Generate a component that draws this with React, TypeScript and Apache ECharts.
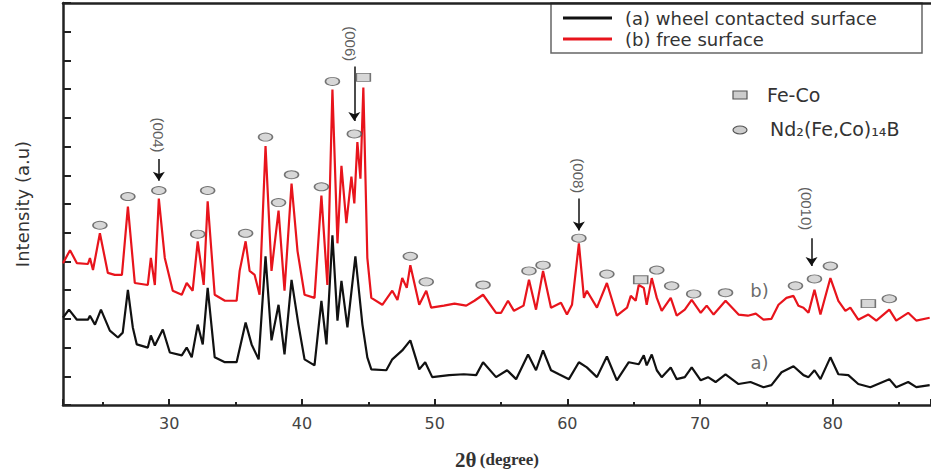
import React, { useEffect, useRef } from "react";
import * as echarts from "echarts";

const seriesAName = "(a) wheel contacted surface";
const seriesBName = "(b) free surface";

// 2θ (degree), intensity (a.u.)
const seriesA: number[][] = [
  [22.0, 3.04], [22.45, 3.32], [23.05, 2.97], [23.88, 2.97], [24.03, 3.11], [24.41, 2.8], [24.86, 3.32],
  [25.53, 2.59], [26.14, 2.35], [26.5, 2.52], [26.89, 4.01], [27.26, 2.7], [27.56, 2.11], [28.39, 2.0],
  [28.62, 2.42], [28.92, 2.07], [29.52, 2.63], [30.05, 1.83], [30.95, 1.73], [31.32, 2.0], [31.7, 1.66],
  [32.15, 2.8], [32.53, 2.11], [32.9, 4.08], [33.43, 1.66], [34.2, 1.49], [35.08, 1.49], [35.76, 2.87],
  [36.21, 2.11], [36.74, 1.59], [37.26, 5.18], [37.71, 2.25], [38.24, 3.49], [38.69, 1.76], [39.22, 4.36],
  [39.74, 2.8], [40.2, 1.59], [40.95, 1.38], [41.47, 3.63], [41.85, 2.11], [42.3, 5.91], [42.68, 2.94],
  [42.98, 4.32], [43.43, 2.7], [44.03, 5.18], [44.56, 2.8], [44.93, 1.66], [45.23, 1.24], [46.36, 1.21],
  [46.81, 1.59], [47.56, 1.9], [48.17, 2.25], [48.84, 1.24], [49.29, 1.49], [49.82, 0.97], [51.1, 1.04],
  [52.2, 1.07], [53.13, 1.04], [53.65, 1.49], [54.63, 0.97], [55.46, 1.21], [56.14, 0.9], [57.04, 1.76],
  [57.64, 1.21], [58.17, 1.9], [58.77, 1.21], [59.37, 1.07], [60.12, 0.9], [60.87, 1.49], [61.47, 1.31],
  [62.23, 0.97], [62.98, 1.69], [63.73, 0.86], [64.63, 1.49], [65.38, 1.42], [65.76, 1.73], [65.98, 1.38],
  [66.36, 1.76], [66.74, 1.21], [67.11, 0.97], [67.79, 1.31], [68.24, 0.9], [68.85, 0.97], [69.37, 1.31],
  [70.05, 0.86], [70.6, 0.97], [71.17, 0.8], [71.92, 1.07], [72.9, 0.73], [73.8, 0.8], [74.78, 0.62],
  [75.38, 0.69], [76.14, 1.14], [77.04, 1.35], [77.79, 1.04], [78.17, 0.97], [78.62, 1.21], [79.07, 0.9],
  [79.82, 1.66], [80.42, 1.07], [81.17, 1.04], [81.92, 0.73], [82.83, 0.62], [84.26, 0.9], [84.78, 0.62],
  [85.68, 0.8], [86.29, 0.62], [87.3, 0.69],
];

const seriesB: number[][] = [
  [22.0, 4.94], [22.53, 5.39], [23.05, 4.94], [23.88, 4.91], [24.03, 5.12], [24.26, 4.7], [24.78, 5.98],
  [25.38, 4.6], [25.9, 4.53], [26.44, 4.53], [26.89, 6.91], [27.41, 4.25], [28.39, 4.18], [28.62, 5.12],
  [28.92, 4.18], [29.22, 7.19], [29.67, 5.12], [30.27, 3.98], [30.95, 3.84], [31.32, 4.25], [31.77, 3.98],
  [32.15, 5.7], [32.6, 4.18], [32.9, 7.09], [33.43, 3.84], [34.2, 3.63], [35.08, 3.63], [35.31, 4.67],
  [35.76, 5.7], [36.06, 4.67], [36.44, 4.53], [36.81, 3.84], [37.26, 9.02], [37.71, 4.67], [38.24, 6.77],
  [38.69, 3.98], [39.22, 7.71], [39.67, 5.36], [40.2, 3.84], [40.95, 3.73], [41.47, 7.29], [41.92, 4.18],
  [42.3, 10.99], [42.68, 5.63], [42.98, 8.33], [43.35, 6.33], [43.73, 7.95], [43.95, 7.02], [44.18, 9.16],
  [44.41, 7.88], [44.63, 11.06], [44.93, 5.12], [45.23, 3.73], [46.06, 3.49], [46.81, 3.98], [47.2, 3.66],
  [47.56, 4.42], [47.9, 4.08], [48.17, 4.87], [48.84, 3.49], [49.37, 3.98], [49.74, 3.39], [50.7, 3.46],
  [51.5, 3.53], [52.38, 3.46], [53.0, 3.63], [53.65, 3.84], [54.63, 3.21], [55.01, 3.21], [55.53, 3.63],
  [55.98, 3.28], [56.7, 3.46], [57.11, 4.36], [57.64, 3.32], [58.17, 4.67], [58.77, 3.39], [59.52, 3.56],
  [59.97, 3.15], [60.35, 3.49], [60.87, 5.63], [61.25, 3.73], [61.47, 3.98], [62.23, 3.39], [62.98, 4.25],
  [63.73, 3.11], [64.5, 3.39], [64.78, 3.8], [65.15, 3.63], [65.38, 4.18], [65.76, 4.08], [65.98, 3.49],
  [66.36, 4.42], [66.74, 3.73], [67.11, 3.28], [67.79, 3.73], [68.24, 3.11], [68.85, 3.32], [69.37, 3.66],
  [70.05, 3.21], [70.5, 3.46], [71.02, 3.15], [71.92, 3.63], [72.9, 3.15], [73.6, 3.11], [74.2, 3.18],
  [74.78, 2.97], [75.38, 3.0], [75.91, 3.49], [76.51, 3.73], [77.04, 3.8], [77.41, 3.46], [77.79, 3.39],
  [78.17, 3.21], [78.62, 4.01], [79.07, 3.15], [79.82, 4.42], [80.42, 3.63], [80.95, 3.28], [81.32, 3.39],
  [81.92, 2.97], [82.68, 3.15], [83.28, 2.94], [84.26, 3.32], [84.78, 2.94], [85.68, 3.21], [86.29, 2.94],
  [87.3, 3.04],
];

// phase markers: Nd2(Fe,Co)14B (ellipse) and Fe-Co (rectangle)
const ndPeaks: number[][] = [
  [24.78, 6.26], [26.89, 7.26], [29.22, 7.47], [32.15, 5.95], [32.9, 7.47], [35.76, 5.98], [37.26, 9.33],
  [38.24, 7.05], [39.22, 8.02], [41.47, 7.6], [42.3, 11.27], [43.95, 9.44], [48.17, 5.18], [49.37, 4.29],
  [53.65, 4.18], [57.11, 4.67], [58.17, 4.87], [60.87, 5.81], [62.98, 4.56], [66.74, 4.7], [67.86, 4.15],
  [69.52, 3.87], [71.92, 3.91], [77.19, 4.15], [78.62, 4.39], [79.82, 4.84], [84.26, 3.7],
];
const feCoPeaks: number[][] = [[44.63, 11.41], [65.53, 4.36], [82.68, 3.53]];

// crystal plane annotations
const planeLabels = ["(004)", "(006)", "(008)", "(0010)"];
const planeLabelPos: number[][] = [[29.22, 9.4], [43.65, 12.58], [60.87, 7.98], [78.02, 6.84]];
const arrowX = [29.22, 43.95, 60.87, 78.4];
const arrowFrom = [8.57, 11.79, 7.19, 5.81];
const arrowTo = [7.81, 9.89, 6.08, 4.84];

const curveTags = ["b)", "a)"];
const curveTagPos: number[][] = [[74.48, 3.98], [74.48, 1.49]];

const phaseNames = ["Fe-Co", "Nd\u2082(Fe,Co)\u2081\u2084B"];

const AXIS = "#222";
const MARK_FILL = "#cdcdcd";
const MARK_BORDER = "#555";

export default function App() {
  const ref = useRef<HTMLDivElement>(null);

  useEffect(() => {
    document.body.style.margin = "0";
    if (!ref.current) return;
    const chart = echarts.init(ref.current, undefined, { renderer: "svg" });

    const option: any = {
      animation: false,
      backgroundColor: "#fff",
      grid: { left: 63, right: 0, top: 3, bottom: 67, containLabel: false },
      legend: {
        data: [seriesAName, seriesBName],
        orient: "vertical",
        left: 563,
        top: 9,
        icon: "rect",
        itemWidth: 49,
        itemHeight: 3,
        itemGap: 3,
        padding: 0,
        textStyle: {
          fontFamily: "DejaVu Sans",
          fontSize: 18,
          color: "#333",
          padding: [0, 0, 0, 8],
        },
      },
      graphic: [
        {
          type: "rect",
          shape: { x: 551, y: 3, width: 371, height: 50 },
          style: { fill: "none", stroke: "#666", lineWidth: 1.5 },
          silent: true,
        },
        {
          type: "rect",
          shape: { x: 733, y: 91, width: 14, height: 8 },
          style: { fill: MARK_FILL, stroke: MARK_BORDER, lineWidth: 1.2 },
          silent: true,
        },
        {
          type: "ellipse",
          shape: { cx: 740, cy: 130, rx: 7, ry: 4 },
          style: { fill: MARK_FILL, stroke: MARK_BORDER, lineWidth: 1.2 },
          silent: true,
        },
        {
          type: "text",
          x: 767,
          y: 95,
          style: {
            text: phaseNames[0],
            fontFamily: "DejaVu Sans",
            fontSize: 19,
            fill: "#333",
            verticalAlign: "middle",
          },
          silent: true,
        },
        {
          type: "text",
          x: 770,
          y: 129,
          style: {
            text: phaseNames[1],
            fontFamily: "DejaVu Sans",
            fontSize: 19,
            fill: "#333",
            verticalAlign: "middle",
          },
          silent: true,
        },
      ],
      xAxis: [
        {
          type: "value",
          min: 22,
          max: 87.4,
          splitNumber: 6,
          axisLine: { show: true, onZero: false, lineStyle: { color: AXIS, width: 2.5 } },
          axisTick: { show: true, inside: true, length: 6, lineStyle: { color: AXIS, width: 2 } },
          minorTick: { show: true, splitNumber: 2, length: 3, lineStyle: { color: AXIS, width: 2 } },
          splitLine: { show: false },
          axisLabel: {
            formatter: (v: number) => (Math.abs(v % 10) < 1e-6 ? String(v) : ""),
            showMinLabel: false,
            showMaxLabel: false,
            color: "#444",
            fontSize: 16,
            fontFamily: "DejaVu Sans",
            margin: 10,
          },
          name: "{a|2\u03b8} {b|(degree)}",
          nameLocation: "middle",
          nameGap: 44,
          nameTextStyle: {
            color: "#333",
            rich: {
              a: { fontSize: 21, fontFamily: "Liberation Serif", fontWeight: "bold", color: "#333" },
              b: { fontSize: 17, fontFamily: "Liberation Serif", fontWeight: "bold", color: "#333" },
            },
          },
        },
        {
          type: "value",
          position: "top",
          min: 22,
          max: 87.4,
          axisLine: { show: true, onZero: false, lineStyle: { color: AXIS, width: 2.5 } },
          axisTick: { show: false },
          axisLabel: { show: false },
          splitLine: { show: false },
        },
      ],
      yAxis: [
        {
          type: "value",
          min: 0,
          max: 14,
          interval: 1,
          axisLine: { show: true, onZero: false, lineStyle: { color: AXIS, width: 2.5 } },
          axisTick: { show: true, inside: true, length: 8, lineStyle: { color: AXIS, width: 2 } },
          axisLabel: { show: false },
          splitLine: { show: false },
          name: "Intensity (a.u)",
          nameLocation: "middle",
          nameGap: 32,
          nameRotate: 90,
          nameTextStyle: { fontFamily: "DejaVu Sans", fontSize: 18, color: "#333" },
        },
      ],
      series: [
        {
          name: seriesAName,
          type: "line",
          data: seriesA,
          symbol: "none",
          color: "#111",
          lineStyle: { color: "#111", width: 2.2 },
          z: 2,
        },
        {
          name: seriesBName,
          type: "line",
          data: seriesB,
          symbol: "none",
          color: "#e8141c",
          lineStyle: { color: "#e8141c", width: 2.2 },
          z: 3,
          markLine: {
            silent: true,
            symbol: ["none", "arrow"],
            symbolSize: 9,
            lineStyle: { color: "#111", width: 1.5, type: "solid" },
            label: { show: false },
            data: arrowX.map((x, i) => [
              { coord: [x, arrowFrom[i]] },
              { coord: [x, arrowTo[i]] },
            ]),
          },
        },
        {
          name: "Nd2(Fe,Co)14B",
          type: "scatter",
          data: ndPeaks,
          symbol: "circle",
          symbolSize: [14, 8],
          itemStyle: { color: MARK_FILL, borderColor: MARK_BORDER, borderWidth: 1.2 },
          z: 6,
          silent: true,
        },
        {
          name: "Fe-Co",
          type: "scatter",
          data: feCoPeaks,
          symbol: "rect",
          symbolSize: [14, 8],
          itemStyle: { color: MARK_FILL, borderColor: MARK_BORDER, borderWidth: 1.2 },
          z: 6,
          silent: true,
        },
        {
          name: "planes",
          type: "scatter",
          data: planeLabelPos,
          symbolSize: 1,
          itemStyle: { color: "rgba(0,0,0,0)" },
          silent: true,
          z: 7,
          label: {
            show: true,
            position: "inside",
            rotate: -90,
            formatter: (p: any) => planeLabels[p.dataIndex],
            fontFamily: "Liberation Sans",
            fontSize: 15,
            color: "#333",
          },
        },
        {
          name: "tags",
          type: "scatter",
          data: curveTagPos,
          symbolSize: 1,
          itemStyle: { color: "rgba(0,0,0,0)" },
          silent: true,
          z: 7,
          label: {
            show: true,
            position: "inside",
            formatter: (p: any) => curveTags[p.dataIndex],
            fontFamily: "DejaVu Sans",
            fontSize: 18,
            color: "#444",
          },
        },
      ],
    };

    chart.setOption(option);
    return () => chart.dispose();
  }, []);

  return <div ref={ref} style={{ width: 931, height: 475 }} />;
}
